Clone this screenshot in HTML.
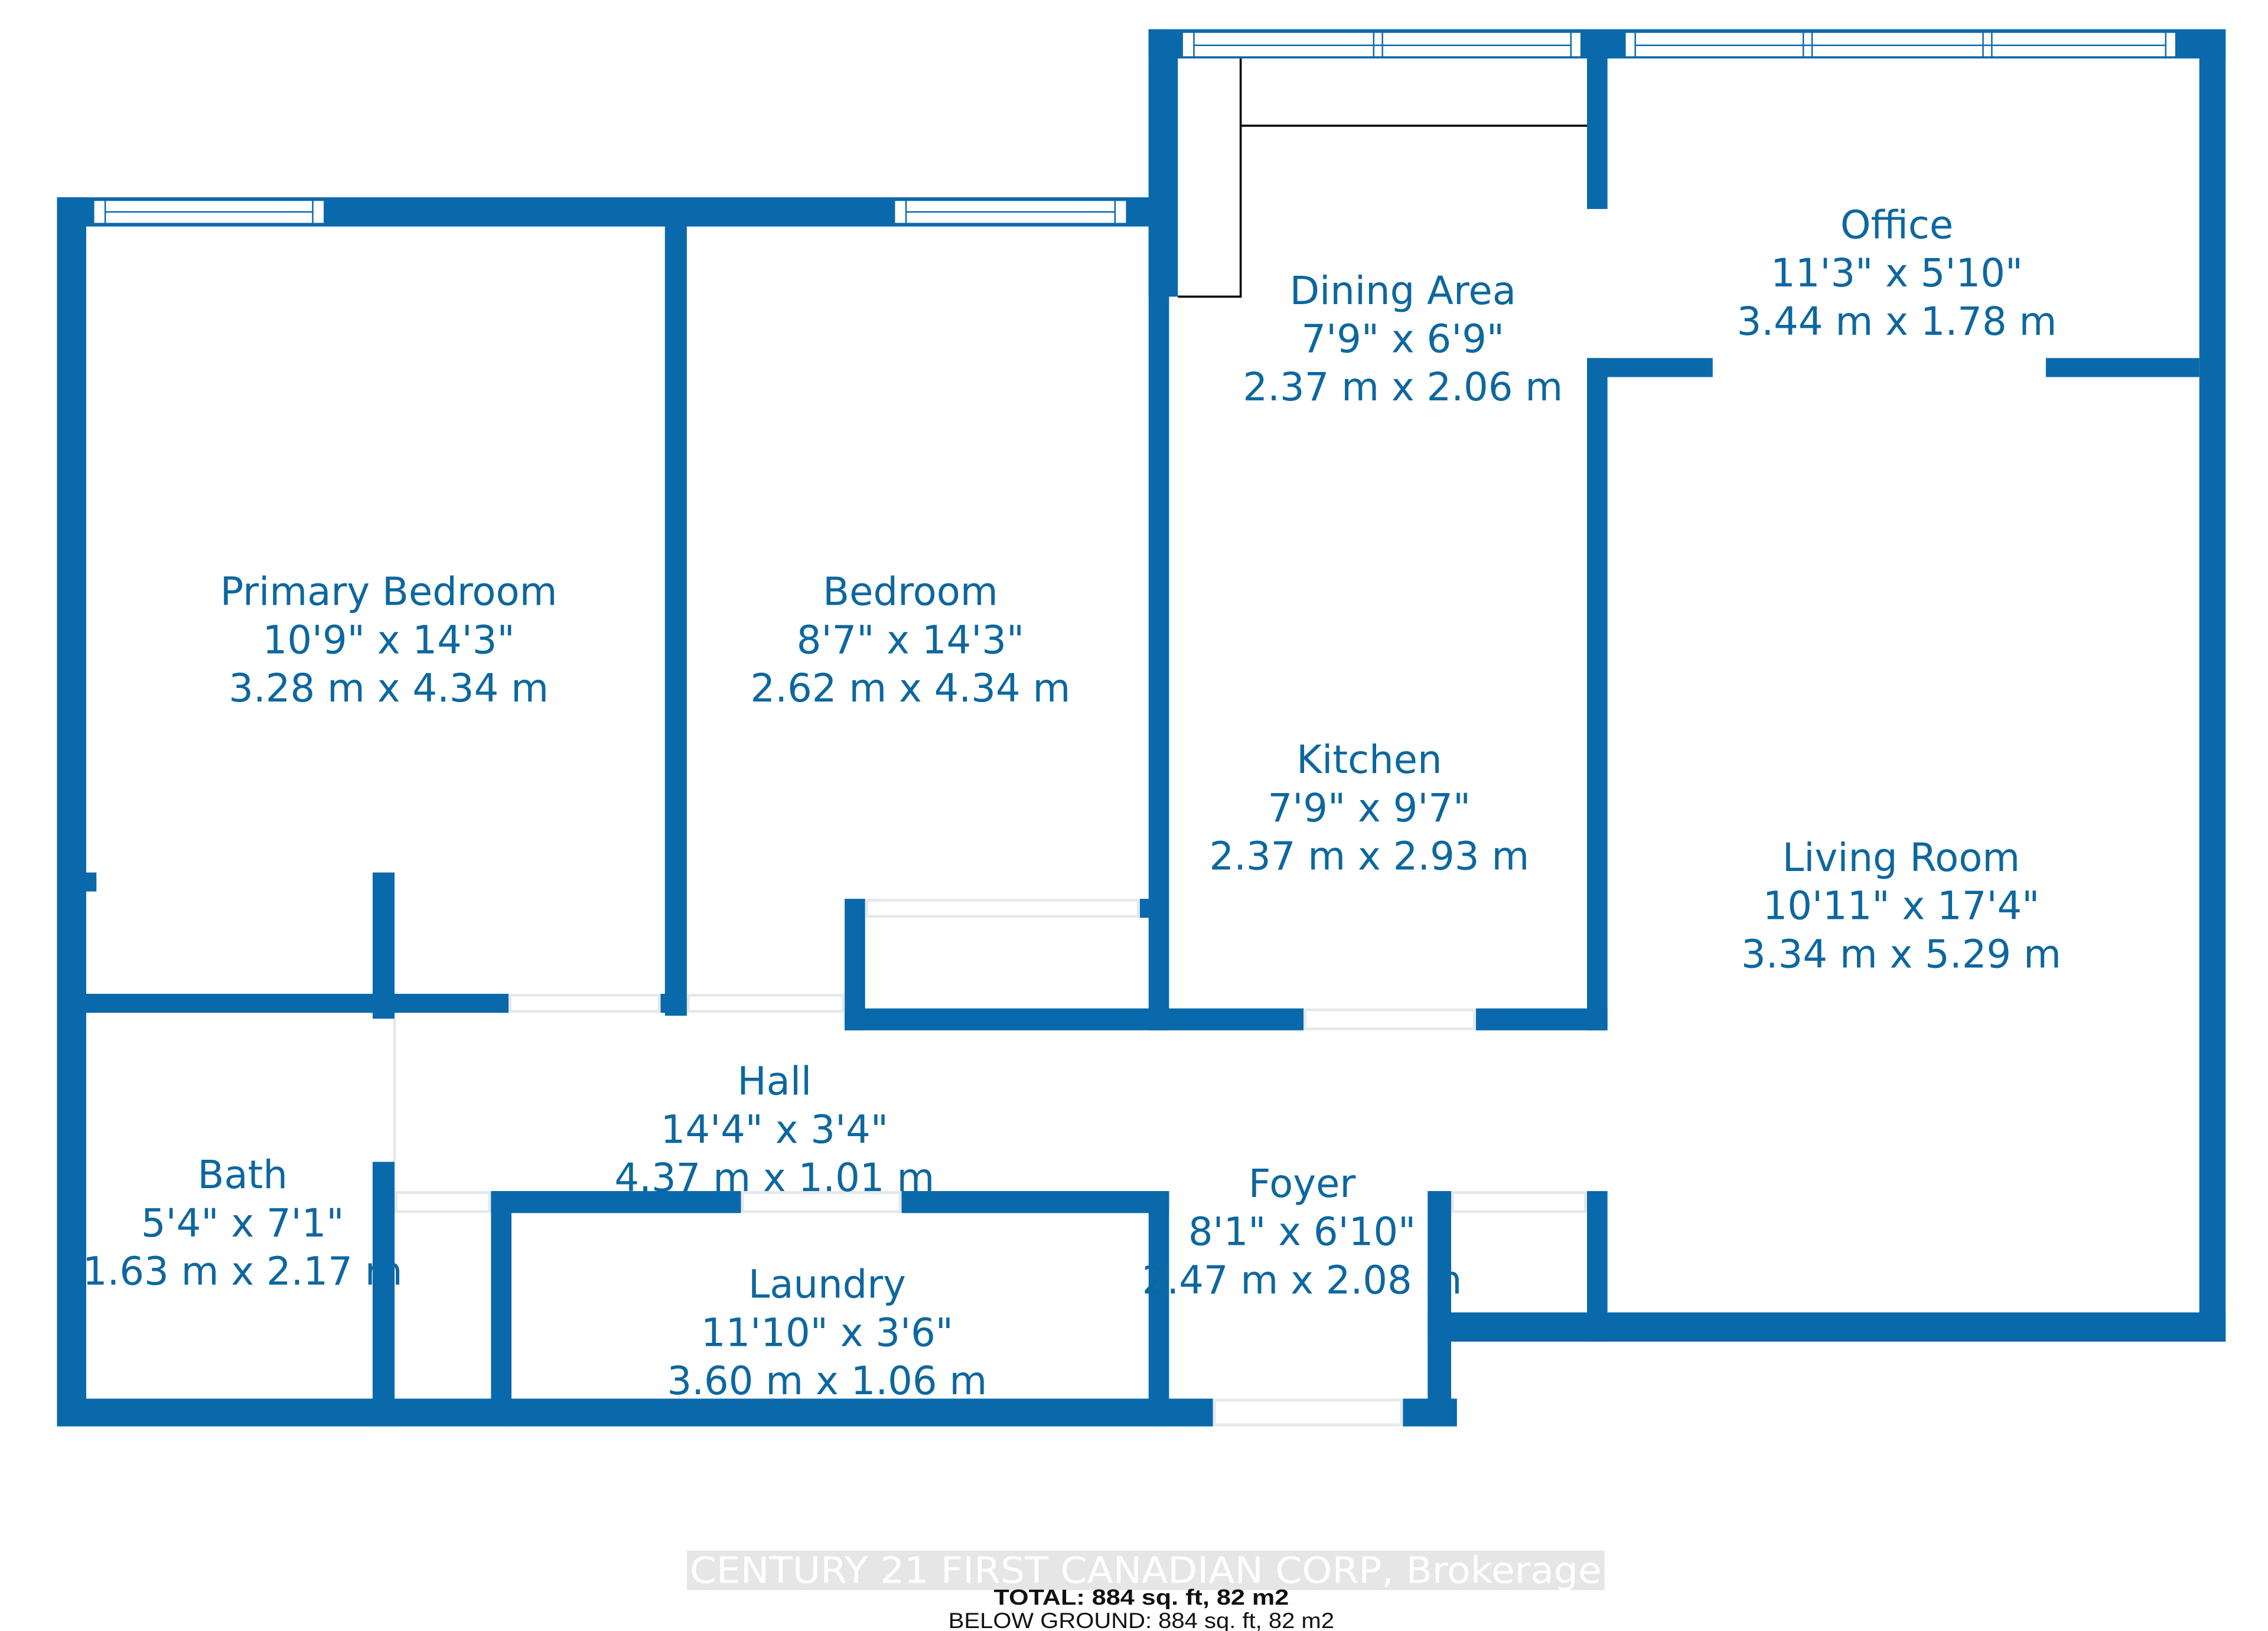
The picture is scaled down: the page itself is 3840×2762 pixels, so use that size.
<!DOCTYPE html>
<html><head><meta charset="utf-8"><style>html,body{margin:0;padding:0;background:#fff}svg{display:block}</style></head>
<body>
<svg width="3840" height="2762" viewBox="0 0 1552 1116" preserveAspectRatio="none" xmlns="http://www.w3.org/2000/svg">
<rect width="1552" height="1116" fill="#fff"/>
<g fill="#0a69ab">
<rect x="39" y="135" width="761" height="20"/>
<rect x="39" y="135" width="20" height="841"/>
<rect x="39" y="957" width="791" height="19"/>
<rect x="960" y="957" width="37" height="19"/>
<rect x="455" y="150" width="15" height="545"/>
<rect x="786" y="20" width="20" height="183"/>
<rect x="786" y="20" width="14" height="685"/>
<rect x="786" y="20" width="737" height="20"/>
<rect x="1505" y="20" width="18" height="898"/>
<rect x="1086" y="20" width="14" height="123"/>
<rect x="1086" y="245" width="86" height="13"/>
<rect x="1400" y="245" width="105" height="13"/>
<rect x="1086" y="245" width="14" height="460"/>
<rect x="578" y="690" width="314" height="15"/>
<rect x="1010" y="690" width="90" height="15"/>
<rect x="578" y="615" width="14" height="90"/>
<rect x="780" y="615" width="10" height="13"/>
<rect x="39" y="680" width="309" height="13"/>
<rect x="452" y="680" width="18" height="13"/>
<rect x="255" y="597" width="15" height="100"/>
<rect x="255" y="795" width="15" height="181"/>
<rect x="59" y="597" width="7" height="13"/>
<rect x="336" y="815" width="171" height="15"/>
<rect x="617" y="815" width="183" height="15"/>
<rect x="336" y="815" width="14" height="161"/>
<rect x="786" y="815" width="14" height="161"/>
<rect x="977" y="815" width="16" height="161"/>
<rect x="977" y="898" width="546" height="20"/>
<rect x="1086" y="815" width="14" height="103"/>
</g>
<g fill="#fff" stroke="#0a69ab" stroke-width="1">
<rect x="64" y="137" width="158" height="16"/><line x1="72" y1="145" x2="214" y2="145"/><line x1="72" y1="137" x2="72" y2="153"/><line x1="214" y1="137" x2="214" y2="153"/>
<rect x="612" y="137" width="159" height="16"/><line x1="620" y1="145" x2="763" y2="145"/><line x1="620" y1="137" x2="620" y2="153"/><line x1="763" y1="137" x2="763" y2="153"/>
<rect x="809" y="22" width="273" height="17"/><line x1="817" y1="31" x2="1075" y2="31"/><line x1="817" y1="22" x2="817" y2="39"/><line x1="940" y1="22" x2="940" y2="39"/><line x1="946" y1="22" x2="946" y2="39"/><line x1="1075" y1="22" x2="1075" y2="39"/>
<rect x="1112" y="22" width="377" height="17"/><line x1="1119" y1="31" x2="1482" y2="31"/><line x1="1119" y1="22" x2="1119" y2="39"/><line x1="1234" y1="22" x2="1234" y2="39"/><line x1="1240" y1="22" x2="1240" y2="39"/><line x1="1357" y1="22" x2="1357" y2="39"/><line x1="1363" y1="22" x2="1363" y2="39"/><line x1="1482" y1="22" x2="1482" y2="39"/>
</g>
<g fill="none" stroke="#e6e9ec" stroke-width="2">
<rect x="349" y="681" width="102" height="11"/><rect x="471" y="681" width="106" height="11"/>
<rect x="593" y="616" width="186" height="11"/>
<rect x="893" y="691" width="116" height="13"/>
<rect x="508" y="816" width="108" height="13"/>
<rect x="271" y="816" width="64" height="13"/>
<rect x="994" y="816" width="91" height="13"/>
<rect x="831" y="958" width="128" height="17"/>
<line x1="270" y1="697" x2="270" y2="795"/>
</g>
<g fill="none" stroke="#111" stroke-width="1.5">
<polyline points="806,203 849,203 849,40"/>
<line x1="849" y1="86" x2="1086" y2="86"/>
</g>
<g fill="#0d679f" font-family="'DejaVu Sans','Liberation Sans',sans-serif" font-size="26.5" text-anchor="middle">
<text x="266" y="414">Primary Bedroom</text><text x="266" y="447">10'9" x 14'3"</text><text x="266" y="480">3.28 m x 4.34 m</text>
<text x="623" y="414">Bedroom</text><text x="623" y="447">8'7" x 14'3"</text><text x="623" y="480">2.62 m x 4.34 m</text>
<text x="960" y="208">Dining Area</text><text x="960" y="241">7'9" x 6'9"</text><text x="960" y="274">2.37 m x 2.06 m</text>
<text x="1298" y="163">Office</text><text x="1298" y="196">11'3" x 5'10"</text><text x="1298" y="229">3.44 m x 1.78 m</text>
<text x="937" y="529">Kitchen</text><text x="937" y="562">7'9" x 9'7"</text><text x="937" y="595">2.37 m x 2.93 m</text>
<text x="1301" y="596">Living Room</text><text x="1301" y="629">10'11" x 17'4"</text><text x="1301" y="662">3.34 m x 5.29 m</text>
<text x="530" y="749">Hall</text><text x="530" y="782">14'4" x 3'4"</text><text x="530" y="815">4.37 m x 1.01 m</text>
<text x="166" y="813">Bath</text><text x="166" y="846">5'4" x 7'1"</text><text x="166" y="879">1.63 m x 2.17 m</text>
<text x="566" y="888">Laundry</text><text x="566" y="921">11'10" x 3'6"</text><text x="566" y="954">3.60 m x 1.06 m</text>
<text x="891" y="819">Foyer</text><text x="891" y="852">8'1" x 6'10"</text><text x="891" y="885">2.47 m x 2.08 m</text>
</g>
<g fill="#0a69ab">
<rect x="336" y="815" width="171" height="15"/><rect x="617" y="815" width="183" height="15"/>
<rect x="255" y="795" width="15" height="181"/><rect x="977" y="815" width="16" height="161"/>
<rect x="336" y="957" width="464" height="19"/>
</g>
<rect x="470" y="1061" width="628" height="27" fill="#e6e6e6"/>
<text x="784" y="1083" text-anchor="middle" font-family="'DejaVu Sans','Liberation Sans',sans-serif" font-size="25" fill="#fff" textLength="624" lengthAdjust="spacingAndGlyphs">CENTURY 21 FIRST CANADIAN CORP, Brokerage</text>
<text x="781" y="1098" text-anchor="middle" font-family="'Liberation Sans',sans-serif" font-size="15" font-weight="bold" fill="#111" textLength="202" lengthAdjust="spacingAndGlyphs">TOTAL: 884 sq. ft, 82 m2</text>
<text x="781" y="1114" text-anchor="middle" font-family="'Liberation Sans',sans-serif" font-size="15" fill="#111" textLength="264" lengthAdjust="spacingAndGlyphs">BELOW GROUND: 884 sq. ft, 82 m2</text>
</svg>
</body></html>
